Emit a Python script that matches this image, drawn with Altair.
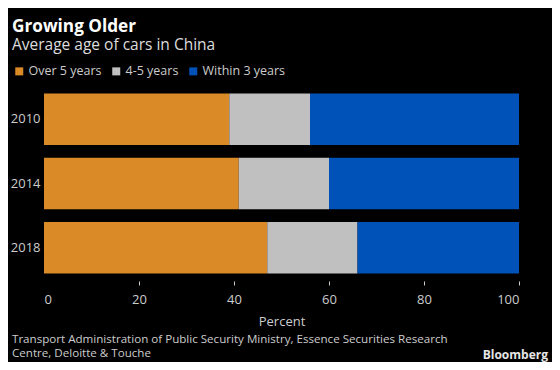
import altair as alt
import pandas as pd

years = ["2010", "2014", "2018"]
categories = ["Over 5 years", "4-5 years", "Within 3 years"]
over5 = [39, 41, 47]
four_five = [17, 19, 19]
within3 = [44, 40, 34]
colors = ["#DA8A26", "#C0C0C0", "#0052B8"]
x_ticks = [0, 20, 40, 60, 80, 100]
source_lines = [
    "Transport Administration of Public Security Ministry, Essence Securities Research",
    "Centre, Deloitte & Touche",
]

rows = []
for i, y in enumerate(years):
    for j, (c, vals) in enumerate(zip(categories, [over5, four_five, within3])):
        rows.append({"year": y, "category": c, "value": vals[i], "order": j})
df = pd.DataFrame(rows)

FONT = "Open Sans"
W, H = 475, 193

bars = alt.Chart(df).mark_bar().encode(
    y=alt.Y("year:N", sort=years, title=None,
            scale=alt.Scale(paddingInner=0.2, paddingOuter=0.1),
            axis=alt.Axis(ticks=False, domain=False, labelPadding=4,
                          labelFontSize=13, labelColor="#cccccc", labelFont=FONT)),
    x=alt.X("value:Q", stack="zero", title="Percent",
            scale=alt.Scale(domain=[0, 100], nice=False),
            axis=alt.Axis(values=x_ticks, grid=False, domain=False,
                          tickSize=4, offset=1, tickColor="#cccccc",
                          tickOpacity=alt.condition("datum.value == 0", alt.value(0), alt.value(1)),
                          labelPadding=8, labelFontSize=13, labelColor="#cccccc",
                          labelFont=FONT, titleFont=FONT, titleFontSize=13,
                          titleColor="#cccccc", titleFontWeight="normal",
                          titlePadding=9)),
    color=alt.Color("category:N", sort=categories,
                    scale=alt.Scale(domain=categories, range=colors),
                    legend=alt.Legend(title=None, orient="none", direction="horizontal",
                                      legendX=-31, legendY=-22, symbolType="square",
                                      symbolSize=64, symbolStrokeWidth=0,
                                      labelFontSize=12.5, labelColor="#cccccc",
                                      labelFont=FONT, columnPadding=8,
                                      symbolOffset=0, padding=0, labelOffset=3)),
    order=alt.Order("order:Q"),
)

def txt(s, x, y, **kw):
    return alt.Chart(pd.DataFrame({"t": [s]})).mark_text(font=FONT, **kw).encode(
        x=alt.value(x), y=alt.value(y), text="t:N")

src1 = txt(source_lines[0], -32, 252.5, align="left", baseline="middle",
           fontSize=11.6, color="#cccccc")
src2 = txt(source_lines[1], -32, 267, align="left", baseline="middle",
           fontSize=11.6, color="#cccccc")
brand = txt("Bloomberg", 504, 268, align="right", baseline="middle",
            fontSize=12, fontWeight="bold", color="#e6e6e6")

chart = alt.layer(bars, src1, src2, brand).properties(
    width=W, height=H,
    background="#000000",
    autosize=alt.AutoSizeParams(type="none"),
    padding={"left": 36, "top": 79, "right": 33, "bottom": 82},
    title=alt.TitleParams(
        text="Growing Older", subtitle="Average age of cars in China",
        anchor="start", frame="group", dx=-32, offset=12,
        font=FONT, fontSize=17.2, fontWeight="bold", color="#ffffff",
        subtitleFont=FONT, subtitleFontSize=15.5, subtitleColor="#dddddd",
        subtitlePadding=2,
    ),
).configure_view(stroke=None)

chart.save("out.html", embed_options={"renderer": "svg", "actions": False})
